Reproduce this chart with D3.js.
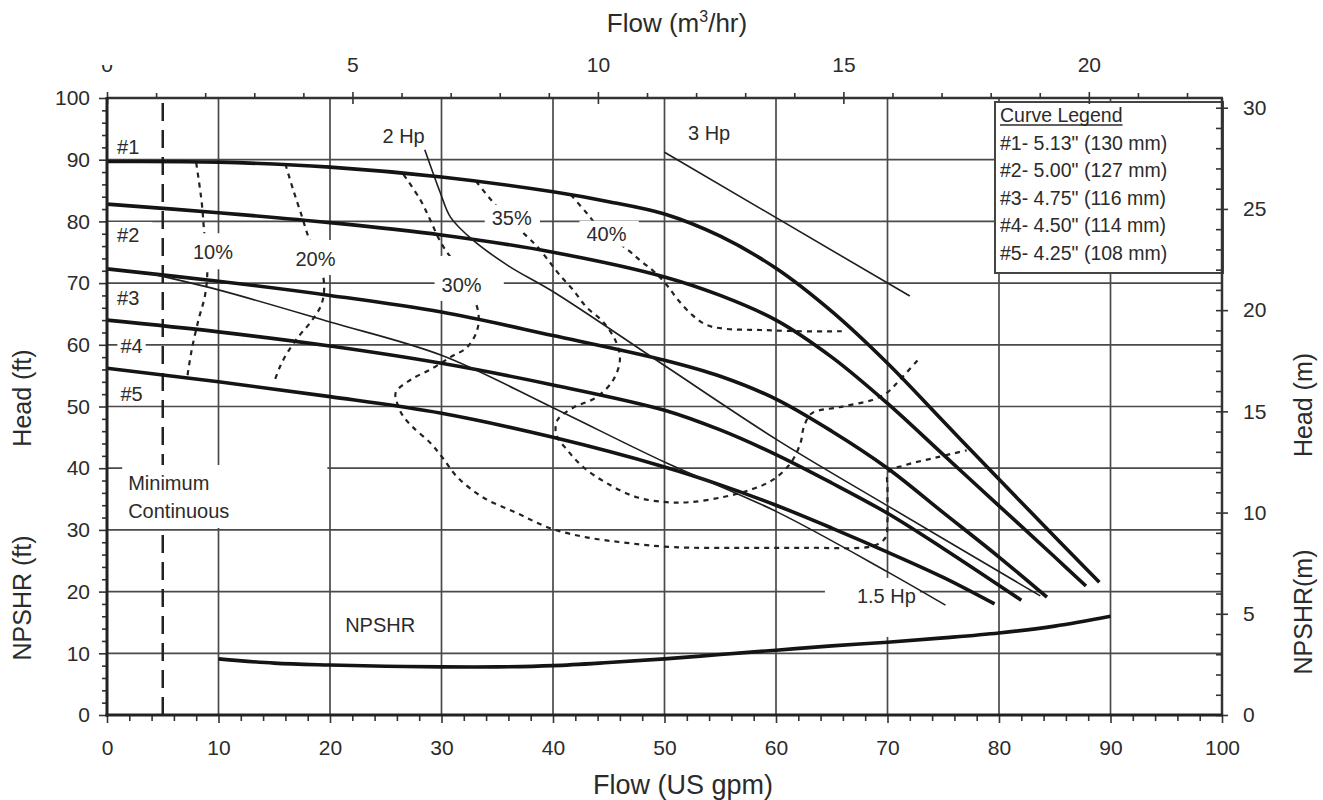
<!DOCTYPE html>
<html><head><meta charset="utf-8">
<script src="https://cdn.jsdelivr.net/npm/d3@7"></script>
<style>
body{margin:0;background:#fff;}
svg{display:block;}
text{font-family:"Liberation Sans", Arial, Helvetica, sans-serif; fill:#2b2b2b;}
</style></head><body>
<svg id="chart" width="1323" height="800"></svg>
<script>
// ---------- DATA ----------
// Head curves: [flow US gpm, head ft]
const head1 = [[0,89.7],[10,89.6],[20,88.8],[30,87.2],[40,84.8],[45,83.2],[50,81.2],[55,77.6],[60,72.4],[65,65.4],[70,57.0],[75,47.6],[80,38.2],[85,28.9],[89,21.5]];
const head2 = [[0,82.8],[10,81.4],[20,79.8],[30,77.8],[40,75],[50,71],[55,68.0],[60,64.0],[65,58.0],[70,50.5],[75,42.2],[80,33.9],[85,25.6],[87.8,20.9]];
const head3 = [[0,72.3],[10,70.3],[20,68],[30,65.3],[40,61.5],[50,57.5],[55,54.9],[60,51.2],[65,46],[70,40],[75,32.8],[80,25.6],[84.3,19.1]];
const head4 = [[0,64],[10,62.1],[20,59.8],[30,57],[40,53.5],[50,49.4],[55,46.2],[60,42.2],[65,37.6],[70,32.7],[75,27],[82,18.6]];
const head5 = [[0,56.2],[10,54],[20,51.6],[30,48.9],[40,45],[50,40.2],[55,37.3],[60,34],[65,30.3],[70,26.4],[75,22.3],[79.6,18]];
// NPSHR curve: [gpm, ft]
const npshr = [[10,9.1],[15,8.4],[20,8.1],[25,7.9],[30,7.8],[35,7.8],[40,8.0],[45,8.5],[50,9.1],[55,9.8],[60,10.5],[65,11.2],[70,11.8],[75,12.5],[80,13.3],[85,14.4],[90,16.0]];
// Power lines
const hp3  = [[50.0,91.2],[72.0,67.9]];
const hp2  = [[28.5,91.6],[29.9,84.6],[30.8,80.7],[32.8,77.0],[36.0,72.8],[40.2,68.4],[50.2,56.4],[60.1,44.6],[70.2,33.7],[83.7,19.3]];
const hp15 = [[4,71.5],[10,68.9],[20,63.7],[30,58.3],[40,49.8],[50,41.0],[60,33.0],[70,23.2],[75.2,17.8]];
// Efficiency contours
const eff10 = [[8.0,89.5],[8.5,83.0],[8.7,78.6],[9.0,72.4],[8.8,68.1],[8.2,64.0],[7.6,59.2],[7.2,54.8]];
const eff20 = [[16.0,89.3],[16.7,85.1],[17.5,80.7],[18.0,77.8],[19.4,71.0],[19.3,66.9],[18.4,64.0],[17.3,61.6],[16.2,58.8],[15.5,56.4],[15.0,54.0]];
const eff30 = [[26.6,87.6],[28.1,83.5],[29.0,80.2],[29.9,76.7],[31.4,72.6],[32.6,68.9],[33.3,65.2],[33.2,62.4],[32.3,59.6],[30.8,58.0],[29.2,56.2],[27.2,54.3],[25.9,52.3],[26.0,50.7],[26.5,48.6],[27.4,46.7],[29.0,44.1],[30.1,41.7],[31.4,38.6],[33.7,35.3],[36.8,32.7],[39.7,30.3],[43.0,28.8],[46.6,27.9],[50.8,27.2],[56.8,27.1],[62.8,27.1],[68.7,27.4],[69.8,28.7],[70.0,31.6],[70.0,36.5],[70.1,39.4],[71.6,40.5],[74.3,41.7],[77.1,42.9]];
const eff35 = [[33.1,86.5],[34.3,83.8],[35.7,81.0],[37.7,77.5],[38.6,75.9],[39.7,73.4],[40.6,71.3],[41.8,68.9],[43.0,66.1],[44.5,63.7],[45.7,60.3],[46.0,57.5],[45.4,54.3],[43.9,51.5],[41.8,49.8],[40.4,47.8],[40.3,45.4],[41.3,42.9],[42.7,40.2],[44.8,37.6],[47.5,35.3],[50.2,34.5],[52.3,34.5],[55.2,35.3],[57.7,36.5],[59.7,38.1],[61.3,40.8],[62.2,44.1],[62.5,46.7],[63.2,48.9],[65.7,49.9],[68.7,51.1],[70.0,52.3],[71.1,54.3],[72.7,57.5]];
const eff40 = [[41.6,84.3],[43.0,81.4],[44.2,78.9],[46.7,75.4],[48.0,73.4],[49.1,71.8],[50.2,69.7],[51.2,67.3],[52.5,64.8],[53.8,63.2],[55.4,62.6],[58.6,62.4],[62.2,62.2],[65.9,62.2]];
// Minimum continuous flow (gpm)
const minFlow = 5;
// Tick labels
const gpmLabels  = [0,10,20,30,40,50,60,70,80,90,100];
const ftLabels   = [0,10,20,30,40,50,60,70,80,90,100];
const m3hLabels  = [0,5,10,15,20];
const mLabels    = [0,5,10,15,20,25,30];
// Legend
const legendTitle = "Curve Legend";
const legendEntries = ['#1- 5.13" (130 mm)','#2- 5.00" (127 mm)','#3- 4.75" (116 mm)','#4- 4.50" (114 mm)','#5- 4.25" (108 mm)'];

// ---------- SCALES ----------
const GPM_PER_M3H = 4.40287, FT_PER_M = 3.28084;
const L = 107, R = 1222, T = 98, B = 715;
const x = d3.scaleLinear().domain([0,100]).range([L,R]);
const y = d3.scaleLinear().domain([0,100]).range([B,T]);
const xTop = d3.scaleLinear().domain([0,100/GPM_PER_M3H]).range([L,R]);
const yRight = d3.scaleLinear().domain([0,100/FT_PER_M]).range([B,T]);

const svg = d3.select("#chart");
svg.append("rect").attr("width",1323).attr("height",800).attr("fill","#fff");

const gGrid = svg.append("g");
const gEff = svg.append("g");
const gMin = svg.append("g");
const gBox = svg.append("g");
const gCurves = svg.append("g");
const gText = svg.append("g");
const gLegend = svg.append("g");
const gAxes = svg.append("g");

// grid
gGrid.selectAll("line.v").data(gpmLabels.filter(d=>d>0&&d<100)).join("line")
  .attr("x1",d=>x(d)).attr("x2",d=>x(d)).attr("y1",T).attr("y2",B)
  .attr("stroke","#4a4a4a").attr("stroke-width",1.7);
gGrid.selectAll("line.h").data(ftLabels.filter(d=>d>0&&d<100)).join("line")
  .attr("y1",d=>y(d)).attr("y2",d=>y(d)).attr("x1",L).attr("x2",R)
  .attr("stroke","#4a4a4a").attr("stroke-width",1.7);

const smooth = d3.line().x(d=>x(d[0])).y(d=>y(d[1])).curve(d3.curveCatmullRom.alpha(0.5));

// efficiency contours
[eff10,eff20,eff30,eff35,eff40].forEach(e=>{
  gEff.append("path").attr("d",smooth(e)).attr("fill","none")
    .attr("stroke","#222").attr("stroke-width",2.2).attr("stroke-dasharray","5,5");
});

// minimum continuous flow line
gMin.append("line").attr("x1",x(minFlow)).attr("x2",x(minFlow)).attr("y1",y(99.2)).attr("y2",B)
  .attr("stroke","#222").attr("stroke-width",2.5).attr("stroke-dasharray","18,9");

// head curves
[head1,head2,head3,head4,head5].forEach(h=>{
  gCurves.append("path").attr("d",smooth(h)).attr("fill","none")
    .attr("stroke","#141414").attr("stroke-width",3.6).attr("stroke-linecap","butt");
});
// power lines
[hp3,hp2,hp15].forEach(p=>{
  gCurves.append("path").attr("d",smooth(p)).attr("fill","none")
    .attr("stroke","#1e1e1e").attr("stroke-width",1.6);
});
// NPSHR
gCurves.append("path").attr("d",smooth(npshr)).attr("fill","none")
  .attr("stroke","#141414").attr("stroke-width",3.6);

// annotations
const labels = [
 {lines:["#1"], at:[1.9,92.1]},
 {lines:["#2"], at:[1.9,77.8], pad:[10,13,4,4]},
 {lines:["#3"], at:[1.9,67.6], pad:[10,15,4,4]},
 {lines:["#4"], at:[2.2,59.8], pad:[3,3,4,4]},
 {lines:["#5"], at:[2.2,52.0]},
 {lines:["10%"], at:[9.5,75.0], pad:[3,3,10,8]},
 {lines:["20%"], at:[18.7,73.9], pad:[3,3,10,7]},
 {lines:["30%"], at:[31.8,69.7], pad:[7,22,20,7]},
 {lines:["35%"], at:[36.3,80.6], pad:[7,8,4,4]},
 {lines:["40%"], at:[44.8,78.0], pad:[7,12,4,4]},
 {lines:["2 Hp"], at:[26.6,93.8]},
 {lines:["3 Hp"], at:[54.0,94.3]},
 {lines:["1.5 Hp"], at:[69.9,19.3], pad:[32,4,9,32]},
 {lines:["NPSHR"], at:[24.5,14.6]},
 {lines:["Minimum","Continuous"], at:[1.9,37.6], anchor:"start", gap:28, pad:[6,98,9,8]},
];
labels.forEach(lb=>{
  const t = gText.append("text").attr("text-anchor",lb.anchor||"middle").style("font-size","20px");
  lb.lines.forEach((s,i)=>{
    t.append("tspan").attr("x",x(lb.at[0])).attr("y",y(lb.at[1])+i*(lb.gap||0)).attr("dy","0.35em").text(s);
  });
  if(lb.pad){
    const bb = t.node().getBBox();
    const [pl,pr,pt,pb] = lb.pad;
    gBox.append("rect").attr("x",bb.x-pl).attr("y",bb.y-pt+2)
      .attr("width",bb.width+pl+pr).attr("height",bb.height+pt+pb-4).attr("fill","#fff");
  }
});

// legend
const lgX = 995, lgY = 102, lgW = 228, lgH = 171;
gLegend.append("rect").attr("x",lgX).attr("y",lgY).attr("width",lgW).attr("height",lgH)
  .attr("fill","#fff").attr("stroke","#444").attr("stroke-width",2);
const lt = gLegend.append("text").attr("x",lgX+5).attr("y",lgY+20).style("font-size","19.5px").text(legendTitle);
const ltw = lt.node().getComputedTextLength();
gLegend.append("line").attr("x1",lgX+5).attr("x2",lgX+5+ltw).attr("y1",lgY+23).attr("y2",lgY+23)
  .attr("stroke","#2b2b2b").attr("stroke-width",1.3);
gLegend.selectAll("text.e").data(legendEntries).join("text").attr("class","e")
  .attr("x",lgX+5).attr("y",(d,i)=>lgY+48+i*27.4).style("font-size","19.5px").text(d=>d);

// axes
function styleAxis(g){ g.attr("font-family",null).attr("font-size",null); g.select(".domain").remove();
  g.selectAll(".tick line").attr("stroke","#333").attr("stroke-width",1.6);
  g.selectAll(".tick text").style("font-size","21px").attr("fill","#2b2b2b"); }

const axL = gAxes.append("g").attr("transform",`translate(${L},0)`)
  .call(d3.axisLeft(y).tickValues(d3.range(0,101,2)).tickSize(5).tickFormat(d=>ftLabels.includes(d)?d:""));
styleAxis(axL);
axL.selectAll(".tick line").attr("x2",d=>ftLabels.includes(d)?-8:-5);
axL.selectAll(".tick text").attr("x",-17);

const axB = gAxes.append("g").attr("transform",`translate(0,${B})`)
  .call(d3.axisBottom(x).tickValues(d3.range(0,101,2)).tickSize(6).tickFormat(d=>gpmLabels.includes(d)?d:""));
styleAxis(axB);
axB.selectAll(".tick line").attr("y2",d=>gpmLabels.includes(d)?8:6);
axB.selectAll(".tick text").attr("y",40).attr("dy",null);

const axT = gAxes.append("g").attr("transform",`translate(0,${T})`)
  .call(d3.axisTop(xTop).tickValues(d3.range(0,22.5,1)).tickSize(5).tickFormat(d=>m3hLabels.includes(d)?d:""));
styleAxis(axT);
axT.selectAll(".tick line").attr("y1",d=>m3hLabels.includes(d)?6:0).attr("y2",d=>m3hLabels.includes(d)?-6:-5);
axT.selectAll(".tick text").attr("y",-26).attr("dy",null);
// the "0" label of the top axis is cut off in the original: show only its lower part
svg.append("clipPath").attr("id","clip0").append("rect").attr("x",L-20).attr("y",65).attr("width",40).attr("height",20);
axT.selectAll(".tick").filter(d=>d===0).each(function(){
  d3.select(this).select("text").remove();
  gAxes.append("text").attr("x",xTop(0)).attr("y",T-26).attr("text-anchor","middle")
    .style("font-size","21px").attr("clip-path","url(#clip0)").text("0");
});

const axR = gAxes.append("g").attr("transform",`translate(${R},0)`)
  .call(d3.axisRight(yRight).tickValues(d3.range(0,30.5,1)).tickSize(6).tickFormat(d=>mLabels.includes(d)?d:""));
styleAxis(axR);
axR.selectAll(".tick line").attr("x1",d=>mLabels.includes(d)?6:0).attr("x2",-6);
axR.selectAll(".tick text").attr("x",21);

// frame
gAxes.append("line").attr("x1",L).attr("x2",R+1).attr("y1",T).attr("y2",T).attr("stroke","#333").attr("stroke-width",2.5);
gAxes.append("line").attr("x1",R).attr("x2",R).attr("y1",T).attr("y2",B).attr("stroke","#333").attr("stroke-width",2.5);
gAxes.append("line").attr("x1",L).attr("x2",L).attr("y1",T-1).attr("y2",B+1.5).attr("stroke","#222").attr("stroke-width",3);
gAxes.append("line").attr("x1",L-1.5).attr("x2",R+1).attr("y1",B).attr("y2",B).attr("stroke","#222").attr("stroke-width",3);

// titles
svg.append("text").attr("x",683).attr("y",794).attr("text-anchor","middle").style("font-size","27px").text("Flow (US gpm)");
const tt = svg.append("text").attr("x",677).attr("y",32).attr("text-anchor","middle").style("font-size","26px");
tt.append("tspan").text("Flow (m");
tt.append("tspan").attr("dy",-10).style("font-size","16px").text("3");
tt.append("tspan").attr("dy",10).text("/hr)");
svg.append("text").attr("transform","translate(31,398) rotate(-90)").attr("text-anchor","middle").style("font-size","25px").text("Head (ft)");
svg.append("text").attr("transform","translate(31,598) rotate(-90)").attr("text-anchor","middle").style("font-size","25px").text("NPSHR (ft)");
svg.append("text").attr("transform","translate(1312,405) rotate(-90)").attr("text-anchor","middle").style("font-size","25px").text("Head (m)");
svg.append("text").attr("transform","translate(1312,612) rotate(-90)").attr("text-anchor","middle").style("font-size","25px").text("NPSHR(m)");
</script></body></html>
